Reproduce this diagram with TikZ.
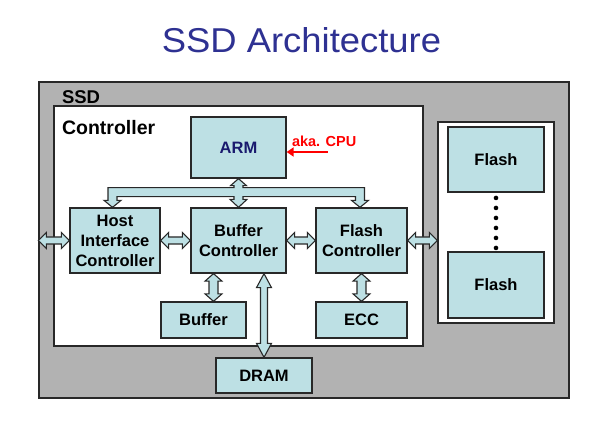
\documentclass[tikz,border=0pt]{standalone}
\usepackage{fontspec}
\setmainfont{Liberation Sans}
\usetikzlibrary{calc,arrows.meta}
\definecolor{boxblue}{RGB}{189,224,228}
\definecolor{ssdgray}{RGB}{178,178,178}
\definecolor{edge}{RGB}{40,40,40}
\definecolor{titleblue}{RGB}{46,49,146}
\definecolor{armblue}{RGB}{26,26,110}
\newcommand{\fatv}[5]{% vertical double fat arrow, #1 above #2; head length, head half width, shaft half width
  \draw[fatarrow] let \p1=(#1), \p2=(#2) in
    (\x1,\y1) -- (\x1+#4,\y1-#3) -- (\x1+#5,\y1-#3) -- (\x1+#5,\y2+#3) -- (\x1+#4,\y2+#3) -- (\x1,\y2)
    -- (\x1-#4,\y2+#3) -- (\x1-#5,\y2+#3) -- (\x1-#5,\y1-#3) -- (\x1-#4,\y1-#3) -- cycle;}
\newcommand{\fath}[2]{% horizontal double fat arrow, #1 left of #2
  \draw[fatarrow] let \p1=(#1), \p2=(#2) in
    (\x1,\y1) -- (\x1+8pt,\y1+8pt) -- (\x1+8pt,\y1+3.5pt) -- (\x2-8pt,\y1+3.5pt) -- (\x2-8pt,\y1+8pt) -- (\x2,\y1)
    -- (\x2-8pt,\y1-8pt) -- (\x2-8pt,\y1-3.5pt) -- (\x1+8pt,\y1-3.5pt) -- (\x1+8pt,\y1-8pt) -- cycle;}
\begin{document}
\begin{tikzpicture}[x=1pt,y=-1pt,
  box/.style={draw=edge, line width=1.3pt, fill=boxblue, rectangle, inner sep=0pt,
    align=center, font=\fontsize{16.5}{20}\selectfont\bfseries},
  fatarrow/.style={draw=edge, line width=1.1pt, fill=boxblue, line join=miter},
  panel/.style={draw=edge, line width=1.4pt, rectangle, inner sep=0pt}]
\useasboundingbox (0,0) rectangle (600,435);
\fill[white] (0,0) rectangle (600,435);
% title
\node[anchor=base, text=titleblue, font=\fontsize{34.5}{40}\selectfont, inner sep=0pt] (title) at (301.5,53) {\scalebox{1.055}[1]{SSD Architecture}};
% SSD gray box
\node[panel, fill=ssdgray, minimum width=530pt, minimum height=316pt] (ssd) at (304,240) {};
\node[anchor=base west, font=\fontsize{18.5}{22}\selectfont\bfseries] (ssdlbl) at (58.5,103.3) {SSD};
% controller white box
\node[panel, fill=white, minimum width=369pt, minimum height=240pt] (ctrl) at (238.5,226) {};
\node[anchor=base west, font=\fontsize{19.5}{22}\selectfont\bfseries] (ctrllbl) at (58.5,135) {Controller};
% flash panel
\node[panel, fill=white, minimum width=116pt, minimum height=201pt] (fpanel) at (496,222.5) {};
% boxes
\node[box, minimum width=95pt, minimum height=61pt, text=armblue] (arm) at (238.5,147.5) {ARM};
\node[box, minimum width=90pt, minimum height=65pt] (host) at (115,240.5) {Host\\Interface\\Controller};
\node[box, minimum width=95pt, minimum height=65pt] (bufc) at (238.5,240.5) {Buffer\\Controller};
\node[box, minimum width=91pt, minimum height=65pt] (flc) at (361.5,240.5) {Flash\\Controller};
\node[box, minimum width=85pt, minimum height=36pt] (buf) at (203.5,320) {Buffer};
\node[box, minimum width=91pt, minimum height=36pt] (ecc) at (361.5,320) {ECC};
\node[box, minimum width=96pt, minimum height=35pt] (dram) at (264,375.5) {DRAM};
\node[box, minimum width=96pt, minimum height=65pt] (fl1) at (496,159.5) {Flash};
\node[box, minimum width=96pt, minimum height=66pt] (fl2) at (496,285) {Flash};
% dots
\foreach \i in {0,...,5} {
  \fill[black] ($(fl1.south)+(0,5.3+10*\i)$) circle (2.3pt);
}
% aka CPU
\node[anchor=base west, text=red, font=\fontsize{14.5}{17}\selectfont\bfseries] (aka) at (288.5,147) {aka. CPU};
\coordinate (akastart) at (327.5,152);
\draw[red, line width=2.4pt, -{Triangle[length=7pt,width=9pt]}] (akastart) -- (akastart -| arm.east);
% bus
\draw[fatarrow] let \p1=(arm.south), \p2=(bufc.north), \p3=(host.north), \p4=(flc.north) in
  (\x1,\y1) -- (\x1+8pt,\y1-7pt) -- (\x1+4.5pt,\y1-7pt) -- (\x1+4.5pt,\y1-9pt)
  -- (\x4+3pt,\y1-9pt) -- (\x4+3pt,\y4+7pt) -- (\x4+7pt,\y4+7pt) -- (\x4-1.5pt,\y4)
  -- (\x4-10pt,\y4+7pt) -- (\x4-6pt,\y4+7pt) -- (\x4-6pt,\y1-18pt)
  -- (\x1+4.5pt,\y1-18pt) -- (\x1+4.5pt,\y2+8pt) -- (\x1+8.5pt,\y2+8pt) -- (\x1,\y2)
  -- (\x1-8.5pt,\y2+8pt) -- (\x1-4.5pt,\y2+8pt) -- (\x1-4.5pt,\y1-18pt)
  -- (\x3+2pt,\y1-18pt) -- (\x3+2pt,\y3+7pt) -- (\x3+6pt,\y3+7pt) -- (\x3-2.5pt,\y3)
  -- (\x3-11pt,\y3+7pt) -- (\x3-7pt,\y3+7pt) -- (\x3-7pt,\y1-9pt)
  -- (\x1-4.5pt,\y1-9pt) -- (\x1-4.5pt,\y1-7pt) -- (\x1-8pt,\y1-7pt) -- cycle;
% horizontal arrows
\fath{ssd.west |- host.west}{host.west}
\fath{host.east}{bufc.west}
\fath{bufc.east}{flc.west}
\fath{flc.east}{fpanel.west |- flc.east}
% vertical arrows
\coordinate (bufport) at ($(bufc.south)+(-25,0)$);
\coordinate (dramport) at ($(bufc.south)+(25.5,0)$);
\fatv{bufport}{bufport |- buf.north}{7.5pt}{8.5pt}{4.5pt}
\fatv{dramport}{dramport |- dram.north}{14pt}{7.5pt}{3.5pt}
\fatv{flc.south}{ecc.north}{7.5pt}{8.5pt}{4.5pt}
\end{tikzpicture}
\end{document}
